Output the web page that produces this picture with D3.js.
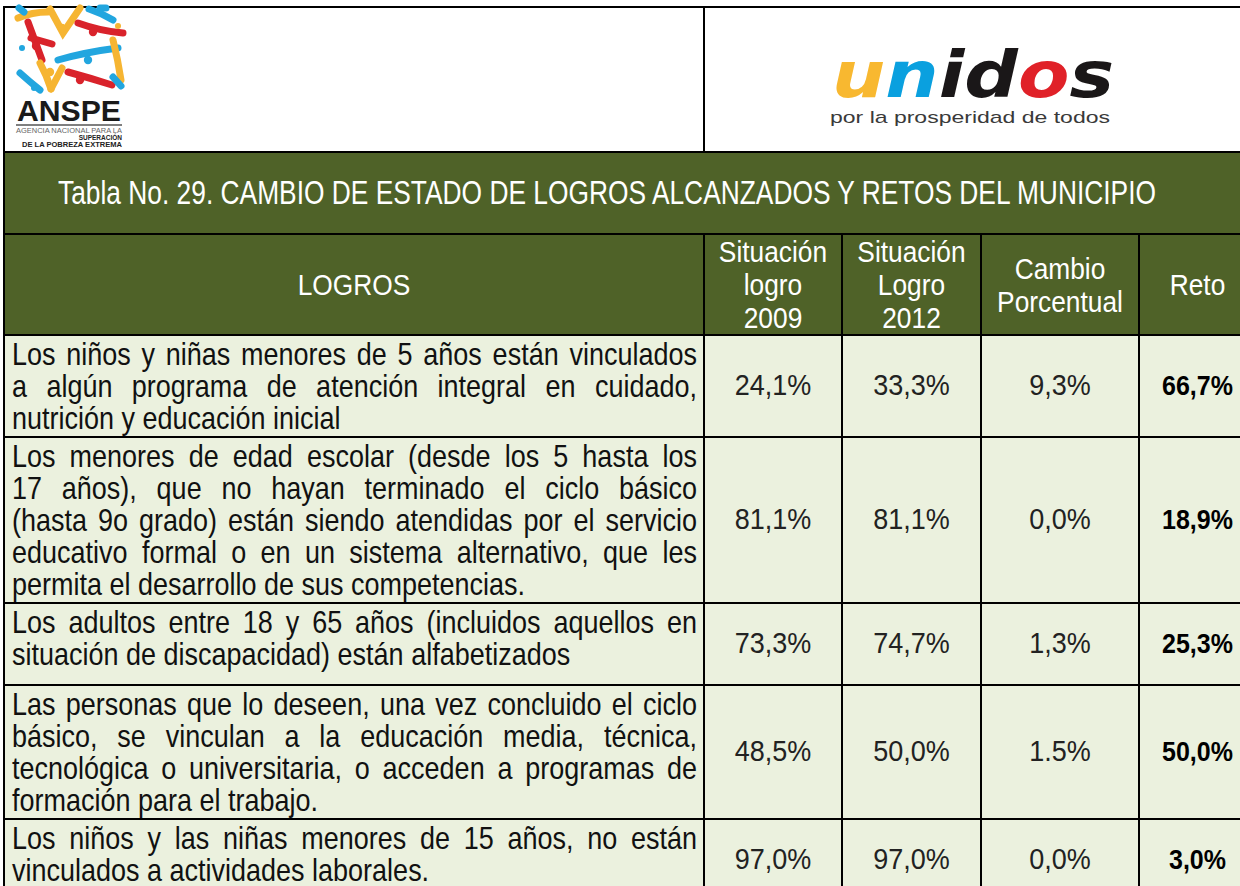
<!DOCTYPE html>
<html>
<head>
<meta charset="utf-8">
<script src="https://cdn.jsdelivr.net/npm/d3@7/dist/d3.min.js"></script>
<style>
  body { margin: 0; background: #fff; }
  svg { display: block; }
</style>
</head>
<body>
<svg id="chart" width="1240" height="886"></svg>
<script>
// ---- data ----
const titulo = "Tabla No. 29. CAMBIO DE ESTADO DE LOGROS ALCANZADOS Y RETOS DEL MUNICIPIO";
const columnas = ["logro", "s2009", "s2012", "cambio", "reto"];
const encabezados = [
  ["LOGROS"],
  ["Situación", "logro", "2009"],
  ["Situación", "Logro", "2012"],
  ["Cambio", "Porcentual"],
  ["Reto"]
];
const logros = [
  ["Los niños y niñas menores de 5 años están vinculados",
   "a algún programa de atención integral en cuidado,",
   "nutrición y educación inicial"],
  ["Los menores de edad escolar (desde los 5 hasta los",
   "17 años), que no hayan terminado el ciclo básico",
   "(hasta 9o grado) están siendo atendidas por el servicio",
   "educativo formal o en un sistema alternativo, que les",
   "permita el desarrollo de sus competencias."],
  ["Los adultos entre 18 y 65 años (incluidos aquellos en",
   "situación de discapacidad) están alfabetizados"],
  ["Las personas que lo deseen, una vez concluido el ciclo",
   "básico, se vinculan a la educación media, técnica,",
   "tecnológica o universitaria, o acceden a programas de",
   "formación para el trabajo."],
  ["Los niños y las niñas menores de 15 años, no están",
   "vinculados a actividades laborales."]
];
const situacion2009 = ["24,1%", "81,1%", "73,3%", "48,5%", "97,0%"];
const situacion2012 = ["33,3%", "81,1%", "74,7%", "50,0%", "97,0%"];
const cambioPorcentual = ["9,3%", "0,0%", "1,3%", "1.5%", "0,0%"];
const retos = ["66,7%", "18,9%", "25,3%", "50,0%", "3,0%"];

// ---- layout ----
const svg = d3.select("#chart");
const green = "#4f6228", light = "#ebf1de";
const font = "'Liberation Sans', Arial, sans-serif";

const colStart = d3.scaleOrdinal().domain(columnas).range([4, 704, 842, 981, 1139]);
const tableRight = 1256;
const colEnd = c => {
  const i = columnas.indexOf(c);
  return i < columnas.length - 1 ? colStart(columnas[i + 1]) : tableRight;
};
const colMid = c => (colStart(c) + colEnd(c)) / 2;

const yTop = 7, yTitle = 152, yHead = 234, yBody = 335;
const lineH = 32, minRowH = 82;
const rowH = logros.map(l => Math.max(l.length * lineH + 6, minRowH));
const rowY = d3.scaleOrdinal().domain(d3.range(logros.length))
  .range([yBody, ...d3.cumsum(rowH).map(v => yBody + v)]);

// text measuring helper
const meas = svg.append("text").attr("visibility", "hidden");
function textW(str, size, weight) {
  meas.attr("font-family", font).attr("font-size", size).attr("font-weight", weight || "normal").text(str);
  return meas.node().getComputedTextLength();
}

// text with baseline at y, squeezed by sx and stretched by sy (condensed look)
function shapedText(parent, y, sx, sy) {
  return parent.append("g").attr("transform", `translate(0,${y}) scale(${sx},${sy})`)
    .append("text").attr("font-family", font);
}

// ---- logo cells ----
svg.append("rect").attr("x", 4).attr("y", yTop).attr("width", 700).attr("height", yTitle - yTop)
  .attr("fill", "#fff").attr("stroke", "#000").attr("stroke-width", 2);
svg.append("rect").attr("x", 704).attr("y", yTop).attr("width", tableRight - 704).attr("height", yTitle - yTop)
  .attr("fill", "#fff").attr("stroke", "#000").attr("stroke-width", 2);

// ANSPE logo (figures)
const yel = "#f6b532", red = "#d9232b", blu = "#22a6df";
const figures = [
  [yel, "M18,18 Q32,12 48,12"], [blu, "M19,8 L24,12"], [yel, "M50,9 L63,33 L80,8"],
  [blu, "M89,9 Q101,13 113,20"], [red, "M78,23 Q100,31 123,33"], [red, "M28,22 L42,60"],
  [red, "M31,38 L52,44"], [blu, "M58,60 Q86,52 118,48"], [yel, "M113,40 Q118,60 121,80"],
  [yel, "M40,63 Q47,76 51,89"], [yel, "M51,89 L62,68"], [red, "M68,72 Q90,78 112,85"],
  [blu, "M20,73 Q30,82 40,90"], [blu, "M113,77 L121,86"], [blu, "M100,8 L106,8"]
];
const logoA = svg.append("g");
figures.forEach(f => logoA.append("path").attr("d", f[1]).attr("fill", "none")
  .attr("stroke", f[0]).attr("stroke-width", 7).attr("stroke-linecap", "round"));
[[yel, 62, 28], [red, 93, 32], [blu, 88, 60], [red, 80, 80], [red, 36, 46], [yel, 50, 72]]
  .forEach(h => logoA.append("circle").attr("cx", h[1]).attr("cy", h[2]).attr("r", 4.2).attr("fill", h[0]));
[[blu, 22, 48], [blu, 34, 88], [yel, 118, 26]].forEach(h =>
  logoA.append("circle").attr("cx", h[1]).attr("cy", h[2]).attr("r", 3).attr("fill", h[0]));
logoA.append("text").attr("x", 17).attr("y", 121).attr("font-family", font).attr("font-weight", "bold")
  .attr("font-size", 30).attr("textLength", 104).attr("lengthAdjust", "spacingAndGlyphs").attr("fill", "#1a1a1a").text("ANSPE");
logoA.append("line").attr("x1", 16).attr("x2", 122).attr("y1", 125).attr("y2", 125).attr("stroke", "#555").attr("stroke-width", 1.5);
logoA.append("text").attr("x", 16).attr("y", 133).attr("font-family", font).attr("font-size", 7)
  .attr("textLength", 106).attr("lengthAdjust", "spacingAndGlyphs").attr("fill", "#666").text("AGENCIA NACIONAL PARA LA");
logoA.append("text").attr("x", 122).attr("y", 140).attr("text-anchor", "end").attr("font-family", font).attr("font-weight", "bold")
  .attr("font-size", 6.5).attr("fill", "#222").text("SUPERACIÓN");
logoA.append("text").attr("x", 22).attr("y", 147).attr("font-family", font).attr("font-weight", "bold").attr("font-size", 6.5)
  .attr("textLength", 100).attr("lengthAdjust", "spacingAndGlyphs").attr("fill", "#222").text("DE LA POBREZA EXTREMA");

// unidos logo
const uni = svg.append("text").attr("x", 832).attr("y", 97).attr("font-family", "'DejaVu Sans', sans-serif")
  .attr("font-weight", "bold").attr("font-style", "italic").attr("font-size", 64)
  .attr("textLength", 282).attr("lengthAdjust", "spacingAndGlyphs");
[["u", "#f8b830"], ["n", "#0aa0df"], ["i", "#1a1718"], ["d", "#1a1718"], ["o", "#e02128"], ["s", "#1a1718"]]
  .forEach(l => uni.append("tspan").attr("fill", l[1]).text(l[0]));
svg.append("text").attr("x", 830).attr("y", 123).attr("font-family", font).attr("font-size", 17)
  .attr("textLength", 280).attr("lengthAdjust", "spacingAndGlyphs").attr("fill", "#3a3a3a").text("por la prosperidad de todos");

// ---- title band ----
svg.append("rect").attr("x", 4).attr("y", yTitle).attr("width", tableRight - 4).attr("height", yHead - yTitle)
  .attr("fill", green).attr("stroke", "#000").attr("stroke-width", 2);
const titleSize = 31, titleSx = 1098 / textW(titulo, titleSize);
shapedText(svg, 204, titleSx, 1.05).attr("x", 58 / titleSx).attr("font-size", titleSize)
  .attr("fill", "#fff").text(titulo);

// ---- header row ----
const headSize = 28, headSx = 0.94;
const head = svg.append("g").selectAll("g").data(columnas).join("g");
head.append("rect").attr("x", d => colStart(d)).attr("y", yHead)
  .attr("width", d => colEnd(d) - colStart(d)).attr("height", yBody - yHead)
  .attr("fill", green).attr("stroke", "#000").attr("stroke-width", 2);
head.each(function (c, i) {
  const lines = encabezados[i];
  const cy = (yHead + yBody) / 2;
  lines.forEach((ln, j) => {
    shapedText(d3.select(this), cy + (j - (lines.length - 1) / 2) * 33 + 10.5, headSx, 1.05)
      .attr("x", colMid(c) / headSx).attr("text-anchor", "middle").attr("font-size", headSize)
      .attr("fill", "#fff").text(ln);
  });
});

// ---- body rows ----
const valores = [null, situacion2009, situacion2012, cambioPorcentual, retos];
const bodySize = 30, bodySx = 0.9, bodySy = 1.05;
const textLeft = 12, textRight = 697;
logros.forEach((lines, r) => {
  const y0 = rowY(r), h = rowH[r];
  const g = svg.append("g");
  g.selectAll("rect").data(columnas).join("rect")
    .attr("x", d => colStart(d)).attr("y", y0)
    .attr("width", d => colEnd(d) - colStart(d)).attr("height", h)
    .attr("fill", light).attr("stroke", "#000").attr("stroke-width", 2);

  // justified description
  lines.forEach((ln, j) => {
    const t = shapedText(g, y0 + 30 + j * lineH, bodySx, bodySy)
      .attr("font-size", bodySize).attr("fill", "#111");
    if (j === lines.length - 1) {
      t.attr("x", textLeft / bodySx).text(ln);
      return;
    }
    const words = ln.split(" ");
    const widths = words.map(w => textW(w, bodySize));
    const span = (textRight - textLeft) / bodySx;
    const gap = Math.max((span - d3.sum(widths)) / (words.length - 1), 4);
    let x = textLeft / bodySx;
    words.forEach((w, k) => {
      t.append("tspan").attr("x", x).text(w);
      x += widths[k] + gap;
    });
  });

  // values
  columnas.slice(1).forEach((c, k) => {
    const isReto = c === "reto";
    shapedText(g, y0 + h / 2 + 9, 1, 1.07).attr("x", colMid(c))
      .attr("text-anchor", "middle")
      .attr("font-size", isReto ? 25 : 27).attr("font-weight", isReto ? "bold" : "normal")
      .attr("fill", isReto ? "#000" : "#222").text(valores[k + 1][r]);
  });
});
meas.remove();
</script>
</body>
</html>
